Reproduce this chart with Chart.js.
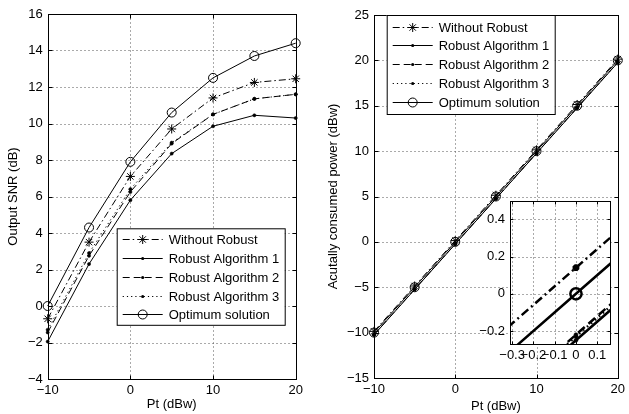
<!DOCTYPE html>
<html>
<head>
<meta charset="utf-8">
<script src="https://cdn.jsdelivr.net/npm/chart.js@4.4.1/dist/chart.umd.min.js"></script>
<style>
  html, body { margin: 0; padding: 0; background: #fff; }
  #wrap { position: relative; width: 629px; height: 414px; overflow: hidden; }
  #wrap canvas { position: absolute; left: 0; top: 0; }
</style>
</head>
<body>
<div id="wrap">
  <canvas id="snr" width="629" height="414"></canvas>
  <canvas id="power" width="629" height="414"></canvas>
  <canvas id="zoomed" width="629" height="414"></canvas>
</div>
<script>
// transmit power Pt (dBw)
var pt = [-10, -5, 0, 5, 10, 15, 20];

var seriesNames = ["Without Robust", "Robust Algorithm 1", "Robust Algorithm 2", "Robust Algorithm 3", "Optimum solution"];

// output SNR (dB)
var snrWithout = [-0.7, 3.5, 7.1, 9.7, 11.4, 12.25, 12.45];
var snrRobust1 = [-1.95, 2.3, 5.8, 8.35, 9.85, 10.45, 10.3];
var snrRobust2 = [-1.45, 2.75, 6.25, 8.9, 10.5, 11.35, 11.6];
var snrRobust3 = [-1.3, 2.9, 6.4, 8.95, 10.5, 11.35, 11.6];
var snrOptimum = [0.0, 4.3, 7.9, 10.6, 12.5, 13.7, 14.4];

// actually consumed power (dBw)
var pwrWithout = [-9.86, -4.86, 0.14, 5.14, 10.14, 15.14, 20.14];
var pwrRobust1 = [-10.25, -5.25, -0.25, 4.75, 9.75, 14.75, 19.75];
var pwrRobust2 = [-10.22, -5.22, -0.22, 4.78, 9.78, 14.78, 19.78];
var pwrRobust3 = [-10.23, -5.23, -0.23, 4.77, 9.77, 14.77, 19.77];
var pwrOptimum = [-10, -5, 0, 5, 10, 15, 20];

// tick values
var ptTicks = [-10, 0, 10, 20];
var snrTicks = [-4, -2, 0, 2, 4, 6, 8, 10, 12, 14, 16];
var pwrTicks = [-15, -10, -5, 0, 5, 10, 15, 20, 25];
var zoomXTicks = [-0.3, -0.2, -0.1, 0, 0.1];
var zoomYTicks = [-0.2, 0, 0.2, 0.4];

Chart.defaults.font.family = "'Liberation Sans', Arial, Helvetica, sans-serif";
Chart.defaults.font.size = 13;
Chart.defaults.color = "#000";

// line style + marker for each series, MATLAB-ish
var looks = [
    { dash: [7, 3, 1.5, 3], marker: "star", size: 4.5 },
    { dash: [], marker: "dot", size: 1.6 },
    { dash: [7, 4], marker: "dot", size: 1.6 },
    { dash: [1.2, 3], marker: "dot", size: 1.6 },
    { dash: [], marker: "ring", size: 4.5 }
];

function buildSets(lists, lw, scale) {
    return lists.map(function (ys, i) {
        var lk = looks[i];
        var star = lk.marker === "star";
        return {
            label: seriesNames[i],
            data: pt.map(function (x, k) { return { x: x, y: ys[k] }; }),
            borderColor: "#000",
            borderWidth: lw,
            borderDash: lk.dash.map(function (d) { return d * scale; }),
            pointStyle: star ? "star" : "circle",
            // the magnified asterisk is drawn small and heavy, so it reads as a blob
            pointRadius: star && scale > 1 ? 3.4 : lk.size * scale,
            pointBorderWidth: lk.marker === "dot" ? 0.5 : (star && scale > 1 ? 3.2 : lw),
            pointBorderColor: "#000",
            pointBackgroundColor: lk.marker === "ring" ? "rgba(0,0,0,0)" : "#000",
            tension: 0,
            fill: false,
            clip: scale > 1 ? undefined : false,
            marker: lk.marker
        };
    });
}

function minus(v) {
    return String(v).replace("-", "\u2212");
}

function axis(min, max, ticks, title, fit, pad) {
    return {
        type: "linear",
        min: min,
        max: max,
        afterBuildTicks: function (s) {
            s.ticks = ticks.map(function (v) { return { value: v }; });
        },
        afterFit: fit,
        grid: { display: false, drawTicks: false },
        border: { display: false },
        ticks: { padding: pad, autoSkip: false, maxRotation: 0, callback: minus },
        title: {
            display: !!title,
            text: title,
            padding: { top: 0, bottom: 0 }
        }
    };
}

// axes box, dotted grid and inward tick marks
var framePlugin = {
    id: "frame",
    beforeDatasetsDraw: function (chart, args, o) {
        var a = chart.chartArea, ctx = chart.ctx;
        var xs = chart.scales.x, ys = chart.scales.y;
        var L = Math.round(a.left) + 0.5, R = Math.round(a.right) + 0.5;
        var T = Math.round(a.top) + 0.5, B = Math.round(a.bottom) + 0.5;
        ctx.save();
        if (o.fill) {
            ctx.fillStyle = "#fff";
            ctx.fillRect(L, T, R - L, B - T);
        }
        ctx.lineWidth = 1;
        ctx.strokeStyle = "#555";
        ctx.setLineDash([1, 3]);
        ctx.beginPath();
        xs.ticks.forEach(function (t) {
            var px = Math.round(xs.getPixelForValue(t.value)) + 0.5;
            ctx.moveTo(px, T); ctx.lineTo(px, B);
        });
        ys.ticks.forEach(function (t) {
            var py = Math.round(ys.getPixelForValue(t.value)) + 0.5;
            ctx.moveTo(L, py); ctx.lineTo(R, py);
        });
        ctx.stroke();
        ctx.setLineDash([]);
        ctx.strokeStyle = "#000";
        ctx.beginPath();
        xs.ticks.forEach(function (t) {
            var px = Math.round(xs.getPixelForValue(t.value)) + 0.5;
            ctx.moveTo(px, B); ctx.lineTo(px, B - o.tick);
            ctx.moveTo(px, T); ctx.lineTo(px, T + o.tick);
        });
        ys.ticks.forEach(function (t) {
            var py = Math.round(ys.getPixelForValue(t.value)) + 0.5;
            ctx.moveTo(L, py); ctx.lineTo(L + o.tick, py);
            ctx.moveTo(R, py); ctx.lineTo(R - o.tick, py);
        });
        ctx.stroke();
        ctx.lineWidth = o.boxWidth || 1;
        ctx.strokeRect(L, T, R - L, B - T);
        ctx.restore();
    }
};

function drawMarker(ctx, kind, x, y, r, lw) {
    ctx.save();
    ctx.lineWidth = lw;
    ctx.strokeStyle = "#000";
    ctx.fillStyle = "#000";
    ctx.beginPath();
    if (kind === "star") {
        var d = r * Math.SQRT1_2;
        ctx.moveTo(x - r, y); ctx.lineTo(x + r, y);
        ctx.moveTo(x, y - r); ctx.lineTo(x, y + r);
        ctx.moveTo(x - d, y - d); ctx.lineTo(x + d, y + d);
        ctx.moveTo(x - d, y + d); ctx.lineTo(x + d, y - d);
        ctx.stroke();
    } else if (kind === "dot") {
        ctx.arc(x, y, r, 0, Math.PI * 2);
        ctx.fill();
    } else {
        ctx.arc(x, y, r, 0, Math.PI * 2);
        ctx.stroke();
    }
    ctx.restore();
}

// boxed legend: line sample with marker in the middle, then the label
var legendPlugin = {
    id: "boxLegend",
    afterDatasetsDraw: function (chart, args, o) {
        if (!o.show) return;
        var ctx = chart.ctx;
        ctx.save();
        ctx.fillStyle = "#fff";
        ctx.fillRect(o.x, o.y, o.w, o.h);
        ctx.strokeStyle = "#000";
        ctx.lineWidth = 1;
        ctx.strokeRect(o.x + 0.5, o.y + 0.5, o.w, o.h);
        ctx.font = "13px 'Liberation Sans', Arial, sans-serif";
        ctx.textBaseline = "middle";
        chart.data.datasets.forEach(function (ds, i) {
            var cy = Math.round(o.y + o.first + i * o.step) + 0.5;
            ctx.setLineDash(ds.borderDash);
            ctx.lineWidth = 1;
            ctx.beginPath();
            ctx.moveTo(o.x + 6, cy);
            ctx.lineTo(o.x + 46, cy);
            ctx.stroke();
            ctx.setLineDash([]);
            drawMarker(ctx, ds.marker, o.x + 26, cy, ds.pointRadius, 1);
            ctx.fillStyle = "#000";
            ctx.fillText(ds.label, o.x + 52, cy + 0.5);
        });
        ctx.restore();
    }
};

function baseOptions(pad, scales, frame, legend) {
    return {
        responsive: false,
        animation: false,
        events: [],
        layout: { padding: pad },
        scales: scales,
        plugins: {
            legend: { display: false },
            tooltip: { enabled: false },
            frame: frame,
            boxLegend: legend
        }
    };
}

// left panel: output SNR
new Chart(document.getElementById("snr"), {
    type: "line",
    data: { datasets: buildSets([snrWithout, snrRobust1, snrRobust2, snrRobust3, snrOptimum], 1, 1) },
    options: baseOptions(
        { left: 6, right: 333.3, top: 14, bottom: 1.5 },
        {
            x: axis(-10, 20, ptTicks, "Pt (dBw)", function (s) { s.height = 33.5; }, 4),
            y: axis(-4, 16, snrTicks, "Output SNR (dB)", function (s) { s.width = 41.7; }, 5)
        },
        { tick: 4 },
        { show: true, x: 116.7, y: 228.3, w: 168, h: 96.5, first: 11, step: 18.75 }
    ),
    plugins: [framePlugin, legendPlugin]
});

// right panel: consumed power
new Chart(document.getElementById("power"), {
    type: "line",
    data: { datasets: buildSets([pwrWithout, pwrRobust1, pwrRobust2, pwrRobust3, pwrOptimum], 1, 1) },
    options: baseOptions(
        { left: 325.2, right: 7, top: 15, bottom: 0.2 },
        {
            x: axis(-10, 20, ptTicks, "Pt (dBw)", function (s) { s.height = 35.8; }, 4),
            y: axis(-15, 25, pwrTicks, "Acutally consumed power (dBw)", function (s) { s.width = 48.8; }, 5)
        },
        { tick: 4 },
        { show: true, x: 386.7, y: 15, w: 168, h: 99, first: 11.7, step: 18.75 }
    ),
    plugins: [framePlugin, legendPlugin]
});

// magnified view around Pt = 0
new Chart(document.getElementById("zoomed"), {
    type: "line",
    data: { datasets: buildSets([pwrWithout, pwrRobust1, pwrRobust2, pwrRobust3, pwrOptimum], 2.5, 1.25) },
    options: baseOptions(
        { left: 460, right: 19, top: 200.7, bottom: 40 },
        {
            x: axis(-0.31, 0.16, zoomXTicks, "", function (s) { s.height = 30; }, 4),
            y: axis(-0.27, 0.5, zoomYTicks, "", function (s) { s.width = 50; }, 5)
        },
        { tick: 3, fill: true },
        { show: false }
    ),
    plugins: [framePlugin, legendPlugin]
});
</script>
</body>
</html>
